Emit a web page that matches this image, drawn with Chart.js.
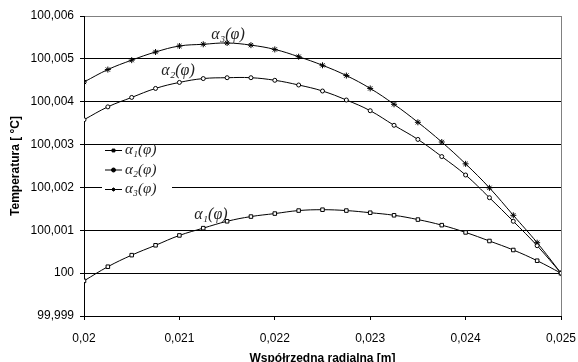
<!DOCTYPE html>
<html>
<head>
<meta charset="utf-8">
<script src="https://cdn.jsdelivr.net/npm/chart.js@4/dist/chart.umd.min.js"></script>
<style>
  html, body { margin: 0; padding: 0; background: #fff; }
  #wrap { width: 578px; height: 362px; }
</style>
</head>
<body>
<div id="wrap"><canvas id="tempChart" width="578" height="362"></canvas></div>
<script>
// promien [m]
const radius = [0.02, 0.02025, 0.0205, 0.02075, 0.021, 0.02125, 0.0215, 0.02175, 0.022, 0.02225,
  0.0225, 0.02275, 0.023, 0.02325, 0.0235, 0.02375, 0.024, 0.02425, 0.0245, 0.02475, 0.025];

// temperatura [°C]
const alpha1 = [99.99982, 100.00015, 100.00042, 100.00065, 100.00088, 100.00105, 100.00121, 100.00132,
  100.00139, 100.00146, 100.00148, 100.00146, 100.00141, 100.00135, 100.00125, 100.00112, 100.00095,
  100.00075, 100.00054, 100.00029, 100];
const alpha2 = [100.00358, 100.00388, 100.0041, 100.00431, 100.00445, 100.00454, 100.00456, 100.00456,
  100.0045, 100.00439, 100.00425, 100.00404, 100.00379, 100.00345, 100.00312, 100.00272, 100.00229,
  100.00176, 100.00121, 100.00064, 100];
const alpha3 = [100.00446, 100.00475, 100.00497, 100.00516, 100.0053, 100.00534, 100.00537, 100.00532,
  100.00522, 100.00505, 100.00485, 100.00461, 100.00431, 100.00394, 100.00352, 100.00306, 100.00255,
  100.00199, 100.00135, 100.00071, 100];

const seriesNames = ['α₁(φ)', 'α₂(φ)', 'α₃(φ)'];

const xTicks = [0.02, 0.021, 0.022, 0.023, 0.024, 0.025];
const xTickLabels = ['0,02', '0,021', '0,022', '0,023', '0,024', '0,025'];
const yTicks = [99.999, 100, 100.001, 100.002, 100.003, 100.004, 100.005, 100.006];
const yTickLabels = ['99,999', '100', '100,001', '100,002', '100,003', '100,004', '100,005', '100,006'];

// podpisy krzywych (wspolrzedne w jednostkach wykresu)
const curveLabels = [
  { text: 'α₁(φ)', x: 0.02133, y: 100.00136 },
  { text: 'α₂(φ)', x: 0.020985, y: 100.00471 },
  { text: 'α₃(φ)', x: 0.02151, y: 100.00556 }
];

const pointStyles = ['rect', 'circle', 'star'];
const pointSizes = [2.5, 2, 3];

function toPoints(ys) {
  return ys.map((y, i) => ({ x: radius[i], y: y }));
}

const datasets = [alpha1, alpha2, alpha3].map((ys, i) => ({
  label: seriesNames[i],
  data: toPoints(ys),
  borderColor: '#000',
  borderWidth: 1,
  backgroundColor: '#fff',
  pointStyle: pointStyles[i],
  pointRadius: pointSizes[i],
  pointBorderColor: '#000',
  pointBackgroundColor: '#fff',
  pointBorderWidth: 1,
  tension: 0.4,
  fill: false
}));

const overlay = {
  id: 'overlay',
  afterDatasetsDraw(chart) {
    const ctx = chart.ctx;
    const xs = chart.scales.x, ys = chart.scales.y;
    const area = chart.chartArea;
    ctx.save();
    ctx.font = 'italic 16px "Liberation Serif", "DejaVu Serif", serif';
    ctx.fillStyle = '#222';
    ctx.textAlign = 'center';
    ctx.textBaseline = 'middle';
    curveLabels.forEach(l => {
      ctx.fillText(l.text, xs.getPixelForValue(l.x), ys.getPixelForValue(l.y));
    });

    // legenda
    const bx = area.left + 18, by = area.top + 131;
    ctx.fillStyle = '#fff';
    ctx.fillRect(bx, by, 70, 50);
    ctx.textAlign = 'left';
    ctx.font = 'italic 15px "Liberation Serif", "DejaVu Serif", serif';
    datasets.forEach((ds, i) => {
      const y = by + 3.5 + i * 19.5;
      ctx.strokeStyle = '#000';
      ctx.lineWidth = 1;
      ctx.beginPath();
      ctx.moveTo(bx + 3, y);
      ctx.lineTo(bx + 20, y);
      ctx.stroke();
      ctx.fillStyle = '#000';
      Chart.helpers.drawPoint(ctx, { pointStyle: ds.pointStyle, radius: 2, borderWidth: 1, rotation: 0 }, bx + 11.5, y);
      ctx.fillStyle = '#222';
      ctx.fillText(ds.label, bx + 23, y);
    });
    ctx.restore();
  }
};

const ctx = document.getElementById('tempChart').getContext('2d');

new Chart(ctx, {
  type: 'line',
  data: { datasets: datasets },
  plugins: [overlay],
  options: {
    responsive: false,
    animation: false,
    layout: { padding: { top: 16, right: 17, left: 0, bottom: -4 } },
    plugins: {
      legend: { display: false },
      tooltip: { enabled: false }
    },
    scales: {
      x: {
        type: 'linear',
        min: 0.02,
        max: 0.025,
        afterBuildTicks: axis => { axis.ticks = xTicks.map(v => ({ value: v })); },
        afterFit: axis => {
          axis.height = 50;
          axis.paddingLeft = 0;
          axis.paddingRight = 0;
        },
        ticks: {
          callback: (v, i) => xTickLabels[i],
          color: '#000',
          font: { family: '"Liberation Sans", Arial, sans-serif', size: 12 },
          padding: 11,
          maxRotation: 0
        },
        grid: {
          color: c => (c.index === xTicks.length - 1 ? '#808080' : 'rgba(0,0,0,0)'),
          tickColor: '#000',
          tickLength: 4,
          lineWidth: 1
        },
        border: { color: '#000', width: 1 },
        title: {
          display: true,
          text: 'Współrzedna radialna [m]',
          color: '#000',
          font: { family: '"Liberation Sans", Arial, sans-serif', size: 12, weight: 'bold' },
          padding: { top: 0, bottom: 0 }
        }
      },
      y: {
        min: 99.999,
        max: 100.006,
        afterBuildTicks: axis => { axis.ticks = yTicks.map(v => ({ value: v })); },
        afterFit: axis => { axis.width = 84; },
        ticks: {
          callback: (v, i) => yTickLabels[i],
          color: '#000',
          font: { family: '"Liberation Sans", Arial, sans-serif', size: 12 },
          padding: 6
        },
        grid: {
          color: c => (c.index === yTicks.length - 1 ? '#808080' : '#000'),
          tickColor: '#000',
          tickLength: 4,
          lineWidth: 1
        },
        border: { color: '#000', width: 1 },
        title: {
          display: true,
          text: 'Temperatura [ °C]',
          color: '#000',
          font: { family: '"Liberation Sans", Arial, sans-serif', size: 12, weight: 'bold' },
          padding: { top: 8, bottom: 0 }
        }
      }
    }
  }
});
</script>
</body>
</html>
